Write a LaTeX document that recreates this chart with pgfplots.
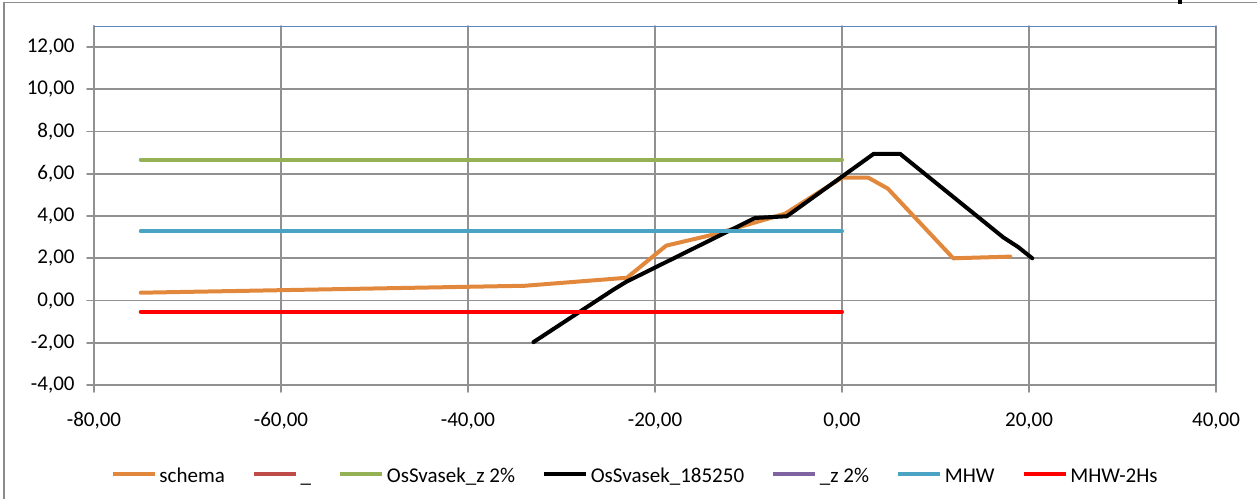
\documentclass[border=0pt]{standalone}
\usepackage{fontspec}
\setmainfont{Carlito}
\usepackage{pgfplots}
\pgfplotsset{compat=1.18}
\definecolor{cOrange}{RGB}{226,136,60}
\definecolor{cBrown}{RGB}{190,75,72}
\definecolor{cGreen}{RGB}{148,178,85}
\definecolor{cBlue}{RGB}{75,163,195}
\definecolor{cPurple}{RGB}{128,100,162}
\definecolor{cGrid}{RGB}{145,145,145}
\definecolor{cFrame}{RGB}{95,135,195}
\definecolor{cBorder}{RGB}{140,140,140}
\newcommand\ls{\rule[-2pt]{0pt}{12pt}}
\begin{document}
\fontsize{10.5}{12.6}\selectfont
\begin{tikzpicture}
\useasboundingbox (0,0) rectangle (628.5pt,249.5pt);
\draw[cBorder, line width=0.8pt] (2pt,0pt) -- (2pt,248.2pt) -- (628.5pt,248.2pt);
\fill[black] (589pt,247.6pt) rectangle (591pt,249.5pt);
\begin{axis}[
  at={(47pt,57pt)}, anchor=south west,
  scale only axis, width=561pt, height=179.5pt,
  xmin=-80, xmax=40, ymin=-4, ymax=13,
  xtick={-80,-60,-40,-20,0,20,40},
  xticklabels={{-80,00},{-60,00},{-40,00},{-20,00},{0,00},{20,00},{40,00}},
  ytick={-4,-2,0,2,4,6,8,10,12},
  yticklabels={{-4,00},{-2,00},{0,00},{2,00},{4,00},{6,00},{8,00},{10,00},{12,00}},
  axis x line*=bottom, axis y line*=left,
  axis line style={cGrid, line width=0.9pt, -},
  tick align=outside, major tick length=3.5pt,
  tick style={cGrid, line width=0.9pt},
  grid=major, major grid style={cGrid, line width=0.9pt},
  xticklabel style={anchor=north, inner sep=0pt, yshift=-10pt},
  yticklabel style={anchor=east, inner sep=0pt, xshift=-6pt},
  legend columns=7,
  legend style={at={(0.0150,-0.248)}, anchor=west, draw=none, fill=none,
    inner sep=0pt, nodes={inner sep=1.5pt, anchor=west},
    /tikz/every even column/.append style={column sep=12.3pt}},
  legend image code/.code={\draw[#1, line width=1.6pt] (0pt,0pt) -- (21pt,0pt);},
  line join=round, line cap=round,
]
\addplot[cOrange, line width=2pt] coordinates {(-75,0.37) (-33.9,0.70) (-23.0,1.08) (-18.8,2.60) (-13.7,3.13) (-6.1,4.11) (0,5.82) (2.8,5.82) (4.9,5.30) (11.9,2.00) (18.0,2.08)};
\addlegendentry{\ls schema}
\addlegendimage{cBrown}
\addlegendentry{\ls\_}
\addplot[cGreen, line width=2pt] coordinates {(-75,6.67) (0,6.67)};
\addlegendentry{\ls OsSvasek\_z 2\%}
\addplot[black, line width=2pt] coordinates {(-33.0,-1.97) (-24.5,0.5) (-23.1,0.88) (-9.3,3.91) (-5.9,3.99) (3.4,6.95) (6.2,6.95) (17.25,2.99) (18.85,2.53) (20.35,2.0)};
\addlegendentry{\ls OsSvasek\_185250}
\addlegendimage{cPurple}
\addlegendentry{\ls\_z 2\%}
\addplot[cBlue, line width=2pt] coordinates {(-75,3.28) (0,3.28)};
\addlegendentry{\ls MHW}
\addplot[red, line width=2pt] coordinates {(-75,-0.53) (0,-0.53)};
\addlegendentry{\ls MHW-2Hs}
\draw[cFrame, line width=0.9pt] (rel axis cs:0,1) -- (rel axis cs:1,1) -- (rel axis cs:1,0);
\end{axis}
\end{tikzpicture}
\end{document}
